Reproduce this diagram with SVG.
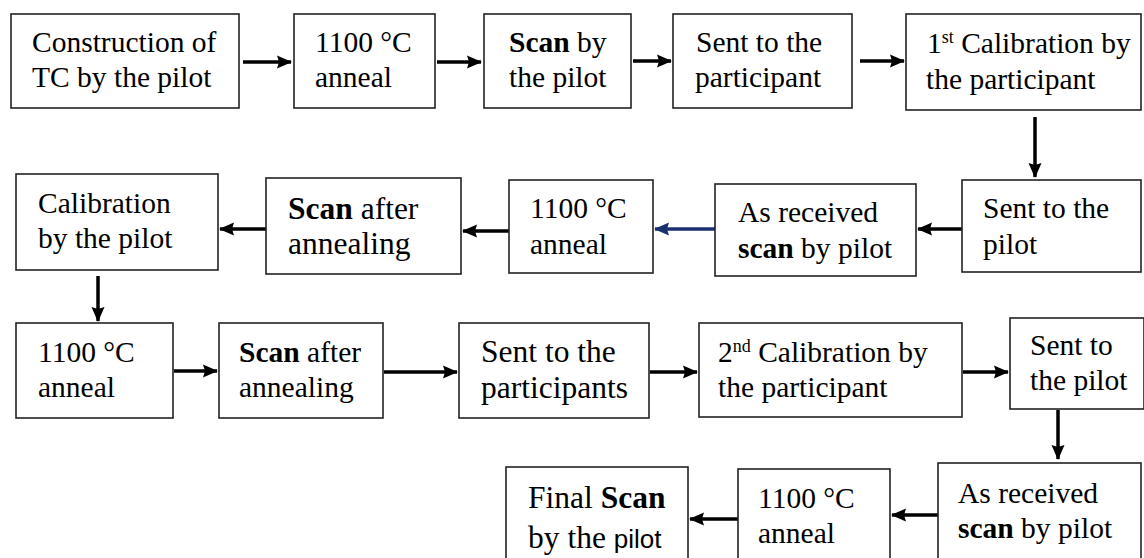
<svg xmlns="http://www.w3.org/2000/svg" width="1144" height="558" viewBox="0 0 1144 558">
<style>
.box{fill:#fff;stroke:#222;stroke-width:1.6}
.t{font-family:"Liberation Serif","Times New Roman",serif;font-size:29.5px;fill:#000}
.L{font-size:31.5px}
.b{font-weight:bold}
.c{stroke:#000;stroke-width:3.5;fill:none;marker-end:url(#ah)}
.n{stroke:#1a3170;stroke-width:3.5;fill:none;marker-end:url(#ahn)}
</style>
<defs>
<marker id="ah" markerUnits="userSpaceOnUse" markerWidth="16" markerHeight="16" refX="14" refY="8" orient="auto"><path d="M0,1.5 L15,8 L0,14.5 L2,8 Z" fill="#000"/></marker>
<marker id="ahn" markerUnits="userSpaceOnUse" markerWidth="16" markerHeight="16" refX="14" refY="8" orient="auto"><path d="M0,1.5 L15,8 L0,14.5 L2,8 Z" fill="#1a3170"/></marker>
</defs>
<rect width="1144" height="558" fill="#fff"/>
<g id="connectors">
<line class="c" x1="243" y1="62" x2="291" y2="62"/>
<line class="c" x1="437" y1="62" x2="481" y2="62"/>
<line class="c" x1="633" y1="61" x2="671" y2="61"/>
<line class="c" x1="860" y1="61" x2="904" y2="61"/>
<line class="c" x1="1035" y1="117" x2="1035" y2="177"/>
<line class="c" x1="962" y1="229" x2="918" y2="229"/>
<line class="n" x1="715" y1="229" x2="655" y2="229"/>
<line class="c" x1="509" y1="231" x2="463" y2="231"/>
<line class="c" x1="266" y1="229" x2="220" y2="229"/>
<line class="c" x1="98" y1="276" x2="98" y2="321"/>
<line class="c" x1="174" y1="371" x2="217" y2="371"/>
<line class="c" x1="384" y1="372" x2="457" y2="372"/>
<line class="c" x1="650" y1="372" x2="697" y2="372"/>
<line class="c" x1="963" y1="372" x2="1008" y2="372"/>
<line class="c" x1="1058" y1="410" x2="1058" y2="459"/>
<line class="c" x1="938" y1="515" x2="892" y2="515"/>
<line class="c" x1="738" y1="519" x2="690" y2="519"/>
</g>
<g id="n1"><rect class="box" x="11" y="14" width="228" height="94"/><text class="t" x="32" y="52">Construction of</text><text class="t" x="32" y="87">TC by the pilot</text></g>
<g id="n2"><rect class="box" x="294" y="14" width="141" height="94"/><text class="t" x="315" y="52">1100 °C</text><text class="t" x="315" y="87">anneal</text></g>
<g id="n3"><rect class="box" x="484" y="14" width="147" height="94"/><text class="t" x="509" y="52"><tspan class="b">Scan</tspan> by</text><text class="t" x="509" y="87">the pilot</text></g>
<g id="n4"><rect class="box" x="673" y="14" width="179" height="94"/><text class="t" x="696" y="52">Sent to the</text><text class="t" x="695" y="87">participant</text></g>
<g id="n5"><rect class="box" x="906" y="14" width="235" height="96"/><text class="t" x="927" y="53">1<tspan font-size="18" dy="-10">st</tspan><tspan dy="10"> Calibration by</tspan></text><text class="t" x="926" y="89">the participant</text></g>
<g id="n6"><rect class="box" x="962" y="180" width="179" height="92"/><text class="t" x="983" y="218">Sent to the</text><text class="t" x="983" y="254">pilot</text></g>
<g id="n7"><rect class="box" x="715" y="184" width="201" height="92"/><text class="t" x="738" y="222">As received</text><text class="t" x="738" y="258"><tspan class="b">scan</tspan> by pilot</text></g>
<g id="n8"><rect class="box" x="509" y="180" width="144" height="93"/><text class="t" x="530" y="218">1100 °C</text><text class="t" x="530" y="254">anneal</text></g>
<g id="n9"><rect class="box" x="266" y="178" width="195" height="96"/><text class="t L" x="288" y="219"><tspan class="b">Scan</tspan> after</text><text class="t L" x="288" y="254">annealing</text></g>
<g id="n10"><rect class="box" x="16" y="174" width="202" height="96"/><text class="t" x="38" y="213">Calibration</text><text class="t" x="38" y="248">by the pilot</text></g>
<g id="n11"><rect class="box" x="16" y="323" width="157" height="95"/><text class="t" x="38" y="362">1100 °C</text><text class="t" x="38" y="397">anneal</text></g>
<g id="n12"><rect class="box" x="219" y="323" width="164" height="95"/><text class="t" x="239" y="362"><tspan class="b">Scan</tspan> after</text><text class="t" x="239" y="397">annealing</text></g>
<g id="n13"><rect class="box" x="459" y="323" width="190" height="95"/><text class="t L" x="481" y="362">Sent to the</text><text class="t L" x="481" y="398">participants</text></g>
<g id="n14"><rect class="box" x="699" y="323" width="263" height="94"/><text class="t" x="718" y="362">2<tspan font-size="18" dy="-10">nd</tspan><tspan dy="10"> Calibration by</tspan></text><text class="t" x="718" y="397">the participant</text></g>
<g id="n15"><rect class="box" x="1010" y="318" width="134" height="91"/><text class="t" x="1030" y="355">Sent to</text><text class="t" x="1030" y="390">the pilot</text></g>
<g id="n16"><rect class="box" x="938" y="463" width="203" height="100"/><text class="t" x="958" y="503">As received</text><text class="t" x="958" y="538"><tspan class="b">scan</tspan> by pilot</text></g>
<g id="n17"><rect class="box" x="738" y="469" width="152" height="95"/><text class="t" x="758" y="508">1100 °C</text><text class="t" x="758" y="543">anneal</text></g>
<g id="n18"><rect class="box" x="506" y="467" width="182" height="97"/><text class="t L" x="528" y="508">Final <tspan class="b">Scan</tspan></text><text class="t L" x="528" y="548">by the <tspan font-family="'Liberation Sans',Arial,sans-serif" font-size="26">pilot</tspan></text></g>
</svg>
